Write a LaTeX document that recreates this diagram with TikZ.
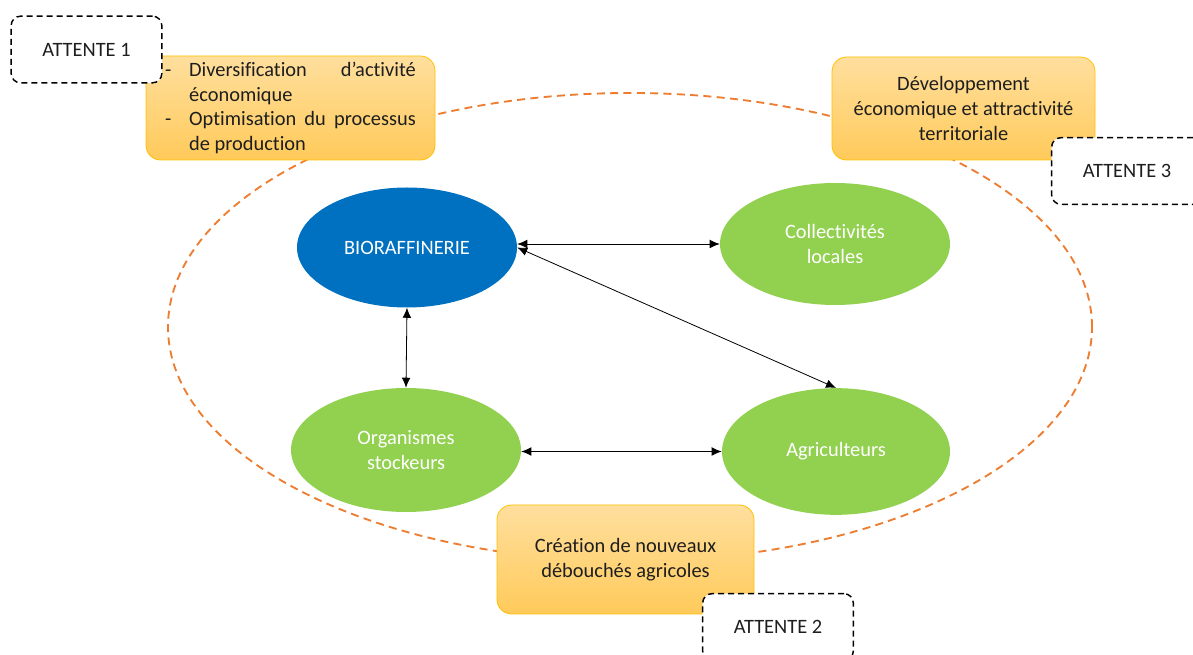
\documentclass[tikz,border=0pt]{standalone}
\usepackage{fontspec}
\setmainfont{Carlito}[Ligatures={NoCommon}]
\usetikzlibrary{shapes.geometric,arrows.meta}
\definecolor{bioblue}{HTML}{0070C0}
\definecolor{leaf}{HTML}{92D050}
\definecolor{ringorange}{HTML}{ED7D31}
\definecolor{boxedge}{HTML}{FFC000}
\definecolor{boxtop}{HTML}{FFDF9E}
\definecolor{boxbot}{HTML}{FFCA5A}
\definecolor{ink}{HTML}{1E1E1E}
\newcommand\myleftlabel[1]{#1\hfil}
\tikzset{
  txt/.style={font=\fontsize{15.3}{18.4}\selectfont, text=ink},
  actor/.style={ellipse, inner sep=0pt, txt, align=center},
  obox/.style={rectangle, rounded corners=11pt, draw=boxedge, line width=0.6pt,
    top color=boxtop, bottom color=boxbot, inner sep=0pt, txt},
  waitbox/.style={rectangle, rounded corners=7pt, draw=black, fill=white,
    line width=1.1pt, dash pattern=on 4.5pt off 3pt, inner sep=0pt, txt,
    minimum width=113pt, minimum height=50pt},
  link/.style={{Latex[length=7.5pt,width=6.5pt]}-{Latex[length=7.5pt,width=6.5pt]}, line width=0.6pt, black},
}
\begin{document}
\begin{tikzpicture}[x=0.75pt,y=-0.75pt]
\useasboundingbox (0,0) rectangle (1193,655);
\clip (0,0) rectangle (1193,655);
% dashed ring
\node[ellipse, draw=ringorange, line width=1.4pt, dash pattern=on 6pt off 4pt,
  minimum width=693pt, minimum height=351pt, inner sep=0pt] (ring) at (630,327) {};
% actors
\node[actor, fill=bioblue, text=white, minimum width=165pt, minimum height=90pt] (bio) at (407,247.5) {BIORAFFINERIE};
\node[actor, fill=leaf, text=white, minimum width=172.5pt, minimum height=91.5pt] (coll) at (835,244) {Collectivités\\locales};
\node[actor, fill=leaf, text=white, minimum width=172.5pt, minimum height=93pt] (org) at (406,450) {Organismes\\stockeurs};
\node[actor, fill=leaf, text=white, minimum width=171pt, minimum height=95pt] (agri) at (836,451.5) {Agriculteurs};
% links
\draw[link] (bio.east |- coll.west) -- (coll.west);
\draw[link] (bio.east) -- (agri.north);
\draw[link] (bio.south) -- (org.north);
\draw[link] (org.east |- agri.west) -- (agri.west);
% expectation boxes
\node[obox, minimum width=216.75pt, minimum height=78pt] (b1) at (290.5,108) {%
  \begin{minipage}{188pt}\hyphenpenalty=10000
  \begin{list}{-}{\leftmargin=18pt\labelwidth=18pt\labelsep=0pt\itemsep=0pt\parsep=0pt\topsep=0pt\partopsep=0pt\itemindent=0pt\let\makelabel\myleftlabel}
  \item Diversification d’activité économique
  \item Optimisation du processus de production
  \end{list}\end{minipage}};
\node[obox, align=center, minimum width=197.25pt, minimum height=77.25pt] (b3) at (963.5,108.5) {Développement\\économique et attractivité\\territoriale};
\node[obox, align=center, minimum width=192.75pt, minimum height=81.75pt] (b2) at (625.5,559.5) {Création de nouveaux\\débouchés agricoles};
% attente boxes
\node[waitbox] (w1) at (86.5,49.5) {ATTENTE 1};
\node[waitbox] (w3) at (1127,171) {ATTENTE 3};
\node[waitbox] (w2) at (778,627) {ATTENTE 2};
\end{tikzpicture}
\end{document}
